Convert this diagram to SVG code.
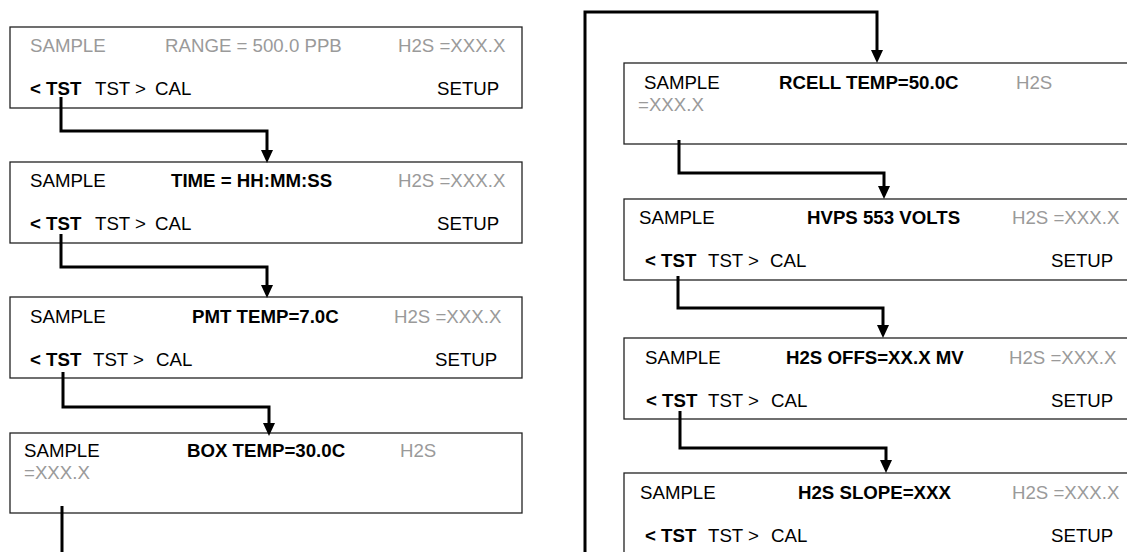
<svg xmlns="http://www.w3.org/2000/svg" width="1127" height="552" viewBox="0 0 1127 552">
<defs>
<style>
.box{fill:#fff;stroke:#222;stroke-width:1.3}
text{font-family:"Liberation Sans",Arial,sans-serif;font-size:18.67px;fill:#000}
.g{fill:#9a9a9a}
.b{font-weight:bold}
.con{fill:none;stroke:#000;stroke-width:3}
</style>
<marker id="ah" viewBox="0 0 13 12" refX="0" refY="6" markerWidth="13" markerHeight="12" markerUnits="userSpaceOnUse" orient="auto">
<path d="M0,0 L13,6 L0,12 z" fill="#000"/>
</marker>
</defs>
<rect width="1127" height="552" fill="#fff"/>

<g id="n-range">
<rect class="box" x="10" y="27" width="512" height="81"/>
<text class="g" x="30" y="52">SAMPLE</text>
<text class="g" x="165" y="52">RANGE = 500.0 PPB</text>
<text class="g" x="398" y="52">H2S =XXX.X</text>
<text class="b" x="30" y="95">&lt; TST</text>
<text x="95" y="95">TST &gt;</text>
<text x="155" y="95">CAL</text>
<text x="437" y="95">SETUP</text>
</g>

<g id="n-time">
<rect class="box" x="10" y="162" width="512" height="81"/>
<text x="30" y="187">SAMPLE</text>
<text class="b" x="171" y="187">TIME = HH:MM:SS</text>
<text class="g" x="398" y="187">H2S =XXX.X</text>
<text class="b" x="30" y="230">&lt; TST</text>
<text x="95" y="230">TST &gt;</text>
<text x="155" y="230">CAL</text>
<text x="437" y="230">SETUP</text>
</g>

<g id="n-pmt">
<rect class="box" x="10" y="297" width="512" height="81"/>
<text x="30" y="323">SAMPLE</text>
<text class="b" x="192" y="323">PMT TEMP=7.0C</text>
<text class="g" x="394" y="323">H2S =XXX.X</text>
<text class="b" x="30" y="366">&lt; TST</text>
<text x="93" y="366">TST &gt;</text>
<text x="156" y="366">CAL</text>
<text x="435" y="366">SETUP</text>
</g>

<g id="n-box">
<rect class="box" x="10" y="433" width="512" height="80"/>
<text x="24" y="457">SAMPLE</text>
<text class="b" x="187" y="457">BOX TEMP=30.0C</text>
<text class="g" x="400" y="457">H2S</text>
<text class="g" x="24" y="479">=XXX.X</text>
</g>

<g id="n-rcell">
<rect class="box" x="624" y="63" width="520" height="81"/>
<text x="644" y="89">SAMPLE</text>
<text class="b" x="779" y="89">RCELL TEMP=50.0C</text>
<text class="g" x="1016" y="89">H2S</text>
<text class="g" x="638" y="111">=XXX.X</text>
</g>

<g id="n-hvps">
<rect class="box" x="624" y="199" width="520" height="81"/>
<text x="639" y="224">SAMPLE</text>
<text class="b" x="807" y="224">HVPS 553 VOLTS</text>
<text class="g" x="1012" y="224">H2S =XXX.X</text>
<text class="b" x="645" y="267">&lt; TST</text>
<text x="708" y="267">TST &gt;</text>
<text x="770" y="267">CAL</text>
<text x="1051" y="267">SETUP</text>
</g>

<g id="n-offs">
<rect class="box" x="624" y="338" width="520" height="81"/>
<text x="645" y="364">SAMPLE</text>
<text class="b" x="786" y="364">H2S OFFS=XX.X MV</text>
<text class="g" x="1009" y="364">H2S =XXX.X</text>
<text class="b" x="646" y="407">&lt; TST</text>
<text x="708" y="407">TST &gt;</text>
<text x="771" y="407">CAL</text>
<text x="1051" y="407">SETUP</text>
</g>

<g id="n-slope">
<rect class="box" x="624" y="473" width="520" height="81"/>
<text x="640" y="499">SAMPLE</text>
<text class="b" x="798" y="499">H2S SLOPE=XXX</text>
<text class="g" x="1012" y="499">H2S =XXX.X</text>
<text class="b" x="645" y="542">&lt; TST</text>
<text x="708" y="542">TST &gt;</text>
<text x="771" y="542">CAL</text>
<text x="1051" y="542">SETUP</text>
</g>

<g id="connectors">
<path class="con" d="M61,97 V131 H267 V150" marker-end="url(#ah)"/>
<path class="con" d="M61,234 V267 H267 V285" marker-end="url(#ah)"/>
<path class="con" d="M63,372 V407 H269 V423" marker-end="url(#ah)"/>
<path class="con" d="M62,506 V553"/>
<path class="con" d="M585,553 V12 H877 V50" marker-end="url(#ah)"/>
<path class="con" d="M679,140 V173 H884 V186" marker-end="url(#ah)"/>
<path class="con" d="M678,276 V308 H883 V325" marker-end="url(#ah)"/>
<path class="con" d="M680,411 V448 H886 V460" marker-end="url(#ah)"/>
</g>
</svg>
